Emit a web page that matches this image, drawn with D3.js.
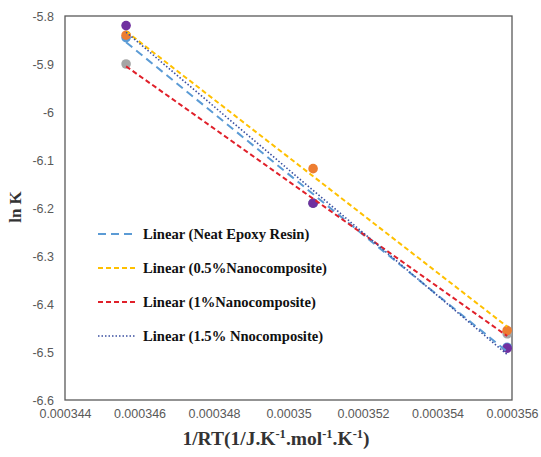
<!DOCTYPE html>
<html><head><meta charset="utf-8">
<script src="https://cdn.jsdelivr.net/npm/d3@7"></script>
<style>body{margin:0;background:#fff}</style>
</head><body>
<svg id="c" width="541" height="457"></svg>
<script>
// x = 1/RT for T = 348, 343, 338 K
const xValues = [0.00034564, 0.00035066, 0.00035587];
const seriesNames = ["Neat Epoxy Resin", "0.5%Nanocomposite", "1%Nanocomposite", "1.5% Nnocomposite"];
const neatEpoxy = [-5.845, -6.19, -6.49];
const nano05 = [-5.84, -6.118, -6.455];
const nano1 = [-5.90, -6.19, -6.462];
const nano15 = [-5.82, -6.19, -6.492];
const xTickLabels = ["0.000344","0.000346","0.000348","0.00035","0.000352","0.000354","0.000356"];
const xTickValues = [0.000344,0.000346,0.000348,0.00035,0.000352,0.000354,0.000356];
const yTickLabels = ["-5.8","-5.9","-6","-6.1","-6.2","-6.3","-6.4","-6.5","-6.6"];
const yTickValues = [-5.8,-5.9,-6.0,-6.1,-6.2,-6.3,-6.4,-6.5,-6.6];

const markerColors = ["#5B9BD5","#ED7D31","#A5A5A5","#7030A0"];
const markerOrder = [0,2,1,3];
const lineColors = ["#5B9BD5","#FFC000","#E0202A","#3A4FA0"];
const lineDash = ["8,5","5,3","5,3","1.5,2"];
const lineWidth = [2,2,2,1.6];
const allSeries = [neatEpoxy, nano05, nano1, nano15];

const svg = d3.select("#c");
const L = 65, R = 512, T = 16, B = 400;
const x = d3.scaleLinear().domain([0.000344, 0.000356]).range([L, R]);
const y = d3.scaleLinear().domain([-6.6, -5.8]).range([B, T]);

const xAxis = d3.axisBottom(x).tickValues(xTickValues).tickFormat((d,i)=>xTickLabels[i]).tickSize(0).tickPadding(9);
const gx = svg.append("g").attr("transform",`translate(0,${B})`).call(xAxis);
gx.select(".domain").remove();
gx.selectAll("text").attr("fill","#595959").style("font-family","'Liberation Sans', Arial, sans-serif").style("font-size","12.5px");

const yAxis = d3.axisLeft(y).tickValues(yTickValues).tickFormat((d,i)=>yTickLabels[i]).tickSize(0).tickPadding(11);
const gy = svg.append("g").attr("transform",`translate(${L},0)`).call(yAxis);
gy.select(".domain").remove();
gy.selectAll("text").attr("fill","#595959").style("font-family","'Liberation Sans', Arial, sans-serif").style("font-size","12.5px");

svg.append("rect").attr("x",L).attr("y",T).attr("width",R-L).attr("height",B-T)
  .attr("fill","none").attr("stroke","#595959").attr("stroke-width",1.3);

markerOrder.forEach(si=>{
  svg.append("g").selectAll("circle").data(allSeries[si]).join("circle")
    .attr("cx",(d,i)=>x(xValues[i])).attr("cy",d=>y(d)).attr("r",4.8)
    .attr("fill",markerColors[si]);
});

function fit(ys){
  const n = xValues.length;
  const mx = d3.mean(xValues), my = d3.mean(ys);
  let sxy=0, sxx=0;
  for(let i=0;i<n;i++){ sxy+=(xValues[i]-mx)*(ys[i]-my); sxx+=(xValues[i]-mx)**2; }
  const b = sxy/sxx, a = my - b*mx;
  return xv => a + b*xv;
}
const x0 = d3.min(xValues), x1 = d3.max(xValues);
allSeries.forEach((s,si)=>{
  const f = fit(s);
  svg.append("line")
    .attr("x1",x(x0)).attr("y1",y(f(x0))).attr("x2",x(x1)).attr("y2",y(f(x1)))
    .attr("stroke",lineColors[si]).attr("stroke-width",lineWidth[si])
    .attr("stroke-dasharray",lineDash[si]);
});

const lg = svg.append("g");
const rowsY = [234, 268, 302, 336];
seriesNames.forEach((nm,i)=>{
  lg.append("line").attr("x1",98).attr("x2",135).attr("y1",rowsY[i]).attr("y2",rowsY[i])
    .attr("stroke",lineColors[i]).attr("stroke-width",lineWidth[i]).attr("stroke-dasharray",lineDash[i]);
  lg.append("text").attr("x",143).attr("y",rowsY[i]).attr("dy","0.35em")
    .style("font-family","'Liberation Serif','Times New Roman',serif").style("font-weight","bold").style("font-size","14.6px")
    .attr("fill","#111").text(`Linear (${nm})`);
});

svg.append("text").attr("transform","translate(21,207) rotate(-90)").attr("text-anchor","middle")
  .style("font-family","'Liberation Serif','Times New Roman',serif").style("font-weight","bold").style("font-size","17px")
  .attr("fill","#333").text("ln K");

const xt = svg.append("text").attr("x",276).attr("y",445).attr("text-anchor","middle")
  .style("font-family","'Liberation Serif','Times New Roman',serif").style("font-weight","bold").style("font-size","19.5px")
  .attr("fill","#333");
xt.append("tspan").text("1/RT(1/J.K");
xt.append("tspan").attr("dy",-7).style("font-size","12.5px").text("-1");
xt.append("tspan").attr("dy",7).text(".mol");
xt.append("tspan").attr("dy",-7).style("font-size","12.5px").text("-1");
xt.append("tspan").attr("dy",7).text(".K");
xt.append("tspan").attr("dy",-7).style("font-size","12.5px").text("-1");
xt.append("tspan").attr("dy",7).text(")");
</script>
</body></html>
